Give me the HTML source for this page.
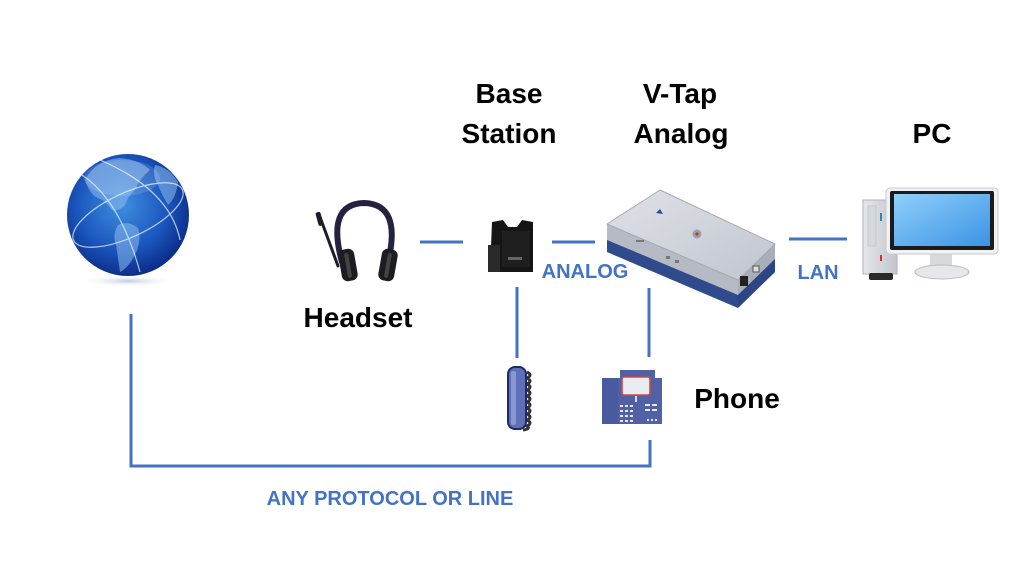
<!DOCTYPE html>
<html><head><meta charset="utf-8"><style>
html,body{margin:0;padding:0;background:#fff;}
svg{display:block;}
text{font-family:"Liberation Sans",Arial,sans-serif;font-weight:bold;}
</style></head><body>
<svg width="1024" height="576" viewBox="0 0 1024 576" xmlns="http://www.w3.org/2000/svg">
<defs>
<radialGradient id="gl" cx="0.45" cy="0.42" r="0.62">
<stop offset="0" stop-color="#3f8fe0"/><stop offset="0.6" stop-color="#1a56bd"/><stop offset="1" stop-color="#0a2680"/>
</radialGradient>
<radialGradient id="gsh" cx="0.5" cy="0.5" r="0.5">
<stop offset="0" stop-color="#9fb3d6" stop-opacity="0.7"/><stop offset="1" stop-color="#fff" stop-opacity="0"/>
</radialGradient>
<linearGradient id="vt" x1="0" y1="0" x2="1" y2="1">
<stop offset="0" stop-color="#dfe2e8"/><stop offset="1" stop-color="#c0c5ce"/>
</linearGradient>
<linearGradient id="scr" x1="0" y1="0" x2="1" y2="1">
<stop offset="0" stop-color="#8fd0fb"/><stop offset="1" stop-color="#3b93e4"/>
</linearGradient>
<linearGradient id="tw" x1="0" y1="0" x2="1" y2="0">
<stop offset="0" stop-color="#e4e6ea"/><stop offset="1" stop-color="#c3c6cc"/>
</linearGradient>
</defs>

<!-- connectors -->
<g stroke="#4472C4" stroke-width="3" fill="none">
<line x1="420" y1="242" x2="463" y2="242"/>
<line x1="552" y1="242" x2="595" y2="242"/>
<line x1="789" y1="239" x2="847" y2="239"/>
<line x1="517" y1="287" x2="517" y2="358"/>
<line x1="649" y1="288" x2="649" y2="357"/>
<polyline points="131,314 131,466 650,466 650,440"/>
</g>

<!-- globe -->
<ellipse cx="128" cy="281" rx="48" ry="6" fill="url(#gsh)"/>
<circle cx="128" cy="215" r="61" fill="url(#gl)"/>
<g fill="#8dbcee" opacity="0.55">
<path d="M85,180 Q95,160 120,158 Q140,160 150,170 Q140,178 135,190 Q128,196 125,205 Q118,212 112,210 Q105,200 98,198 Q90,195 85,180Z"/>
<path d="M118,225 Q128,220 138,228 Q142,240 135,255 Q128,268 120,272 Q118,258 116,245 Q112,235 118,225Z"/>
<path d="M155,165 Q170,168 178,182 Q176,198 168,205 Q162,195 158,185 Q152,175 155,165Z"/>
</g>
<g fill="none" stroke="#e8f2ff" stroke-width="1.2" opacity="0.75">
<ellipse cx="128" cy="215" rx="60" ry="22" transform="rotate(-25 128 215)"/>
<path d="M82,175 Q120,200 140,272"/>
<path d="M100,160 Q170,190 180,240"/>
</g>
<ellipse cx="122" cy="178" rx="38" ry="18" fill="#fff" opacity="0.13"/>

<!-- headset -->
<g fill="none" stroke="#23223f" stroke-width="6" stroke-linecap="round">
<path d="M342,262 Q326,204 364,203 Q402,204 388,262"/>
</g>
<path d="M320,217 L338,266" stroke="#1d1d2a" stroke-width="3" stroke-linecap="round"/>
<rect x="317" y="212" width="5" height="14" rx="2" fill="#1d1d2a" transform="rotate(-15 319 219)"/>
<rect x="340" y="249" width="16" height="32" rx="6" fill="#1c1c22" transform="rotate(-10 348 265)"/>
<rect x="380" y="249" width="16" height="32" rx="6" fill="#1c1c22" transform="rotate(10 388 265)"/>
<rect x="346" y="253" width="4" height="25" rx="2" fill="#444" transform="rotate(-10 348 265)"/>
<rect x="386" y="253" width="4" height="25" rx="2" fill="#444" transform="rotate(10 388 265)"/>

<!-- base station -->
<path d="M492,222 L503,220 L508,227 L517,227 L522,220 L533,222 L533,272 L490,272 Z" fill="#151515"/>
<path d="M488,245 L500,245 L500,272 L488,272Z" fill="#2a2a2a"/>
<rect x="502" y="231" width="28" height="36" fill="#1f1f1f"/>
<rect x="508" y="257" width="14" height="3" fill="#666"/>

<!-- V-Tap -->
<path d="M607,224 L607,252 L738,308 L738,280 Z" fill="#b5bac4"/>
<path d="M607,240 L607,252 L738,308 L738,295 Z" fill="#2f4b8c"/>
<path d="M738,280 L775,244 L775,272 L738,308 Z" fill="#a9aeb8"/>
<path d="M738,295 L775,259 L775,272 L738,308 Z" fill="#2b4586"/>
<path d="M607,224 L660,190 L775,244 L738,280 Z" fill="url(#vt)" stroke="#a4a9b2" stroke-width="1" stroke-linejoin="round"/>
<path d="M656,213 l4,-4 l3,5 z" fill="#2a4a9a"/>
<circle cx="697" cy="234" r="4.5" fill="#9aa0aa"/><circle cx="697" cy="234" r="1.6" fill="#c33"/>
<g fill="#777"><rect x="666" y="256" width="4" height="3"/><rect x="675" y="260" width="4" height="3"/><rect x="636" y="240" width="8" height="2"/></g>
<rect x="740" y="276" width="8" height="10" fill="#222"/>
<rect x="753" y="266" width="6" height="6" fill="#ddd" stroke="#555" stroke-width="1"/>

<!-- PC -->
<rect x="863" y="200" width="34" height="74" fill="url(#tw)" stroke="#b0b3b8" stroke-width="1"/>
<rect x="868" y="206" width="8" height="40" fill="#d5d8dc" stroke="#bbb" stroke-width="0.6"/>
<rect x="880" y="213" width="2" height="8" fill="#38a"/>
<rect x="880" y="255" width="2" height="6" fill="#c33"/>
<rect x="869" y="273" width="24" height="7" rx="2" fill="#2a2a2a"/>
<rect x="930" y="252" width="22" height="14" fill="#d8d9dc"/>
<ellipse cx="942" cy="272" rx="27" ry="7" fill="#e6e7ea" stroke="#b9bbc0" stroke-width="1"/>
<rect x="886" y="188" width="112" height="66" rx="4" fill="#f1f2f4" stroke="#c8cacd" stroke-width="1"/>
<rect x="890" y="191" width="104" height="59" rx="2" fill="#1b1b1b"/>
<rect x="894" y="194" width="96" height="52" fill="url(#scr)"/>

<!-- handset -->
<path d="M527,372 q6,3 0,6 q6,3 0,6 q6,3 0,6 q6,3 0,6 q6,3 0,6 q6,3 0,6 q6,3 0,6 q6,3 0,6 q6,3 0,6 q4,3 -4,4" fill="none" stroke="#333" stroke-width="3"/>
<rect x="508" y="367" width="18" height="62" rx="7" fill="#5e70b8" stroke="#1e2a66" stroke-width="2"/>
<rect x="511" y="371" width="5" height="54" rx="2" fill="#8998d0"/>

<!-- desk phone -->
<path d="M602,378 L620,378 L620,370 L655,370 L655,378 L662,378 L662,424 L602,424 Z" fill="#5161a6"/>
<rect x="602" y="378" width="16" height="46" fill="#4a5a9e"/>
<rect x="622" y="377" width="28" height="18" rx="2" fill="#e8ecf0" stroke="#d04848" stroke-width="1.6"/>
<rect x="635" y="396" width="2" height="6" fill="#ddd"/>
<g fill="#e6e9f4">
<rect x="620" y="405" width="3" height="2"/><rect x="625" y="405" width="3" height="2"/><rect x="630" y="405" width="3" height="2"/>
<rect x="620" y="410" width="3" height="2"/><rect x="625" y="410" width="3" height="2"/><rect x="630" y="410" width="3" height="2"/>
<rect x="620" y="415" width="3" height="2"/><rect x="625" y="415" width="3" height="2"/><rect x="630" y="415" width="3" height="2"/>
<rect x="620" y="420" width="3" height="2"/><rect x="625" y="420" width="3" height="2"/><rect x="630" y="420" width="3" height="2"/>
<rect x="645" y="404" width="5" height="2"/><rect x="652" y="404" width="5" height="2"/>
<rect x="645" y="409" width="5" height="2"/><rect x="652" y="409" width="5" height="2"/>
<rect x="647" y="419" width="2" height="2"/><rect x="651" y="419" width="2" height="2"/><rect x="655" y="419" width="2" height="2"/>
</g>

<!-- labels -->
<g fill="#000" font-size="28" text-anchor="middle">
<text x="509" y="103">Base</text>
<text x="509" y="143">Station</text>
<text x="680" y="103">V-Tap</text>
<text x="681" y="143">Analog</text>
<text x="932" y="143">PC</text>
<text x="358" y="327">Headset</text>
<text x="737" y="408">Phone</text>
</g>
<g fill="#4472C4" font-size="20" text-anchor="middle">
<text x="585" y="278">ANALOG</text>
<text x="818" y="279">LAN</text>
<text x="390" y="505">ANY PROTOCOL OR LINE</text>
</g>
</svg>
</body></html>
